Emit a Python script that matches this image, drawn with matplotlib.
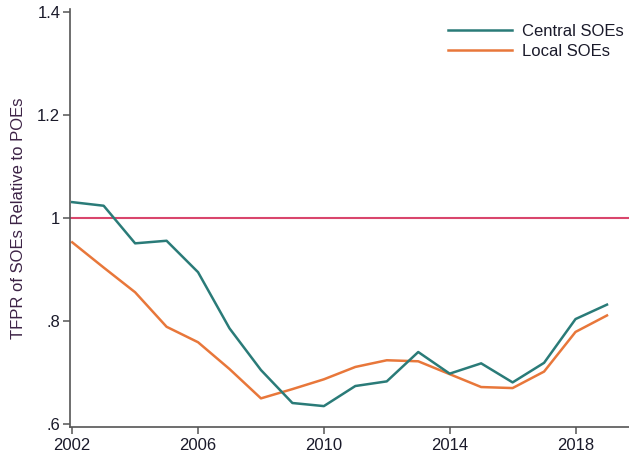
import numpy as np
import matplotlib
matplotlib.use("Agg")
import matplotlib.pyplot as plt

plt.rcParams['font.family'] = ['Liberation Sans', 'DejaVu Sans']

years = list(range(2002, 2020))
central_soes = [1.031, 1.024, 0.951, 0.956, 0.895, 0.786, 0.705, 0.641, 0.635,
                0.674, 0.683, 0.740, 0.698, 0.718, 0.681, 0.719, 0.804, 0.832]
local_soes = [0.953, 0.904, 0.856, 0.789, 0.759, 0.707, 0.650, 0.668, 0.687,
              0.711, 0.724, 0.722, 0.697, 0.672, 0.670, 0.702, 0.779, 0.811]

y_ticks = [0.6, 0.8, 1.0, 1.2, 1.4]
y_tick_labels = ['.6', '.8', '1', '1.2', '1.4']
x_ticks = [2002, 2006, 2010, 2014, 2018]

teal = '#2a7b78'
orange = '#e8773a'
red = '#d9466c'

fig = plt.figure(figsize=(6.29, 4.61), dpi=100)
ax = fig.add_axes([0.1113, 0.0744, 0.8887, 0.905])

ax.axhline(1.0, color=red, linewidth=1.5, zorder=1)
ax.plot(years, central_soes, color=teal, linewidth=1.8, label='Central SOEs', zorder=3)
ax.plot(years, local_soes, color=orange, linewidth=1.8, label='Local SOEs', zorder=2)

ax.set_xlim(2001.93, 2019.7)
ax.set_ylim(0.595, 1.405)
ax.set_yticks(y_ticks)
ax.set_yticklabels(y_tick_labels)
ax.set_xticks(x_ticks)

for side in ['top', 'right']:
    ax.spines[side].set_visible(False)
for side in ['left', 'bottom']:
    ax.spines[side].set_color('#555555')
    ax.spines[side].set_linewidth(1.2)

ax.tick_params(axis='both', colors='#555555', labelcolor='#1a1a2a',
               labelsize=12, length=5, width=1.1)
ax.tick_params(axis='x', pad=3)
ax.tick_params(axis='y', pad=2)

ax.set_ylabel('TFPR of SOEs Relative to POEs', fontsize=12, color='#3d2346', labelpad=8)

ax.legend(loc='upper right', bbox_to_anchor=(1.008, 0.99), frameon=False,
          fontsize=12, handlelength=3.8, handletextpad=0.6, labelspacing=0.3,
          labelcolor='#1a1a2a', borderaxespad=0.2)

fig.savefig('out.png', dpi=100)
